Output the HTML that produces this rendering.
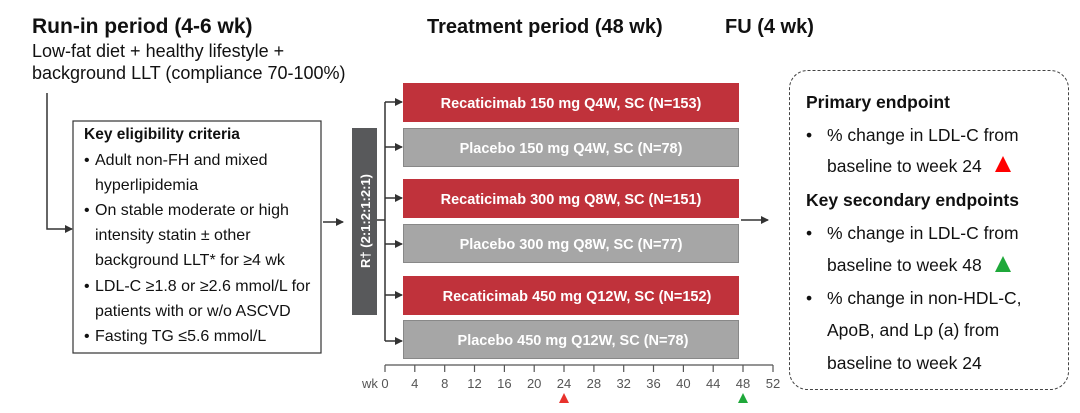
<!DOCTYPE html>
<html><head><meta charset="utf-8"><style>
html,body{margin:0;padding:0;background:#fff;}
svg{display:block;font-family:"Liberation Sans",Arial,sans-serif;}
</style></head><body>
<svg width="1080" height="413" viewBox="0 0 1080 413" xmlns="http://www.w3.org/2000/svg">
<defs><marker id="a" markerWidth="8" markerHeight="8" refX="7" refY="4" orient="auto" markerUnits="userSpaceOnUse"><path d="M0,0 L8,4 L0,8 z" fill="#333"/></marker></defs>
<text x="32" y="33" font-size="21" font-weight="bold" fill="#111">Run-in period (4-6 wk)</text>
<text x="32" y="57" font-size="18" fill="#111">Low-fat diet + healthy lifestyle +</text>
<text x="32" y="79" font-size="18" fill="#111">background LLT (compliance 70-100%)</text>
<text x="427" y="33" font-size="20" font-weight="bold" fill="#111">Treatment period (48 wk)</text>
<text x="725" y="33" font-size="20" font-weight="bold" fill="#111">FU (4 wk)</text>
<polyline points="47,93 47,229 72,229" fill="none" stroke="#333" stroke-width="1.5" marker-end="url(#a)"/>
<rect x="73" y="121" width="248" height="232" fill="#fff" stroke="#333" stroke-width="1.2"/>
<g font-size="16" fill="#111">
<text x="84" y="139" font-size="15.5" font-weight="bold">Key eligibility criteria</text>
<text x="84" y="165">•</text><text x="95" y="165">Adult non-FH and mixed</text>
<text x="95" y="190">hyperlipidemia</text>
<text x="84" y="215">•</text><text x="95" y="215">On stable moderate or high</text>
<text x="95" y="240">intensity statin ± other</text>
<text x="95" y="265">background LLT* for ≥4 wk</text>
<text x="84" y="291">•</text><text x="95" y="291">LDL-C ≥1.8 or ≥2.6 mmol/L for</text>
<text x="95" y="316">patients with or w/o ASCVD</text>
<text x="84" y="341">•</text><text x="95" y="341">Fasting TG ≤5.6 mmol/L</text>
</g>
<line x1="323" y1="222" x2="343" y2="222" stroke="#333" stroke-width="1.5" marker-end="url(#a)"/>
<rect x="352" y="128" width="25" height="187" fill="#58595b"/>
<text transform="translate(370,221) rotate(-90)" text-anchor="middle" font-size="13" font-weight="bold" fill="#fff">R† (2:1:2:1:2:1)</text>
<line x1="377" y1="220" x2="385" y2="220" stroke="#333" stroke-width="1.5"/>
<line x1="385" y1="102" x2="385" y2="341" stroke="#333" stroke-width="1.5"/>
<g stroke="#333" stroke-width="1.5" marker-end="url(#a)">
<line x1="385" y1="102" x2="402" y2="102"/><line x1="385" y1="147" x2="402" y2="147"/>
<line x1="385" y1="198" x2="402" y2="198"/><line x1="385" y1="244" x2="402" y2="244"/>
<line x1="385" y1="295" x2="402" y2="295"/><line x1="385" y1="341" x2="402" y2="341"/>
</g>
<g font-size="14.5" font-weight="bold" fill="#fff" text-anchor="middle">
<rect x="403" y="83" width="336" height="39" fill="#c0323b"/><text x="571" y="108">Recaticimab 150 mg Q4W, SC (N=153)</text>
<rect x="403.5" y="128.5" width="335" height="38" fill="#a6a6a6" stroke="#888"/><text x="571" y="153">Placebo 150 mg Q4W, SC (N=78)</text>
<rect x="403" y="179" width="336" height="39" fill="#c0323b"/><text x="571" y="204">Recaticimab 300 mg Q8W, SC (N=151)</text>
<rect x="403.5" y="224.5" width="335" height="38" fill="#a6a6a6" stroke="#888"/><text x="571" y="249">Placebo 300 mg Q8W, SC (N=77)</text>
<rect x="403" y="276" width="336" height="39" fill="#c0323b"/><text x="577" y="301">Recaticimab 450 mg Q12W, SC (N=152)</text>
<rect x="403.5" y="320.5" width="335" height="38" fill="#a6a6a6" stroke="#888"/><text x="573" y="345">Placebo 450 mg Q12W, SC (N=78)</text>
</g>
<line x1="741" y1="220" x2="768" y2="220" stroke="#333" stroke-width="1.5" marker-end="url(#a)"/>
<line x1="385" y1="365" x2="773" y2="365" stroke="#555" stroke-width="1.2"/>
<g stroke="#555" stroke-width="1.2">
<line x1="385" y1="365" x2="385" y2="372"/><line x1="414.8" y1="365" x2="414.8" y2="372"/><line x1="444.7" y1="365" x2="444.7" y2="372"/><line x1="474.5" y1="365" x2="474.5" y2="372"/><line x1="504.4" y1="365" x2="504.4" y2="372"/><line x1="534.2" y1="365" x2="534.2" y2="372"/><line x1="564" y1="365" x2="564" y2="372"/><line x1="593.9" y1="365" x2="593.9" y2="372"/><line x1="623.7" y1="365" x2="623.7" y2="372"/><line x1="653.5" y1="365" x2="653.5" y2="372"/><line x1="683.4" y1="365" x2="683.4" y2="372"/><line x1="713.2" y1="365" x2="713.2" y2="372"/><line x1="743" y1="365" x2="743" y2="372"/><line x1="773" y1="365" x2="773" y2="372"/>
</g>
<g font-size="13" fill="#555" text-anchor="middle">
<text x="370" y="388">wk</text>
<text x="385" y="388">0</text><text x="414.8" y="388">4</text><text x="444.7" y="388">8</text><text x="474.5" y="388">12</text><text x="504.4" y="388">16</text><text x="534.2" y="388">20</text><text x="564" y="388">24</text><text x="593.9" y="388">28</text><text x="623.7" y="388">32</text><text x="653.5" y="388">36</text><text x="683.4" y="388">40</text><text x="713.2" y="388">44</text><text x="743" y="388">48</text><text x="773" y="388">52</text>
</g>
<polygon points="564,393 559,403 569,403" fill="#e8322c"/>
<polygon points="743,393 738,403 748,403" fill="#1fa83a"/>
<rect x="789.5" y="70.5" width="279" height="319" rx="18" fill="#fff" stroke="#444" stroke-width="1" stroke-dasharray="3,2"/>
<g font-size="17.5" fill="#111">
<text x="806" y="108" font-weight="bold">Primary endpoint</text>
<text x="806" y="141">•</text><text x="827" y="141">% change in LDL-C from</text>
<text x="827" y="172">baseline to week 24</text>
<polygon points="1003,156 995,172 1011,172" fill="#f00"/>
<text x="806" y="206" font-weight="bold">Key secondary endpoints</text>
<text x="806" y="239">•</text><text x="827" y="239">% change in LDL-C from</text>
<text x="827" y="271">baseline to week 48</text>
<polygon points="1003,256 995,272 1011,272" fill="#1fa83a"/>
<text x="806" y="304">•</text><text x="827" y="304">% change in non-HDL-C,</text>
<text x="827" y="336">ApoB, and Lp (a) from</text>
<text x="827" y="369">baseline to week 24</text>
</g>
</svg>
</body></html>
